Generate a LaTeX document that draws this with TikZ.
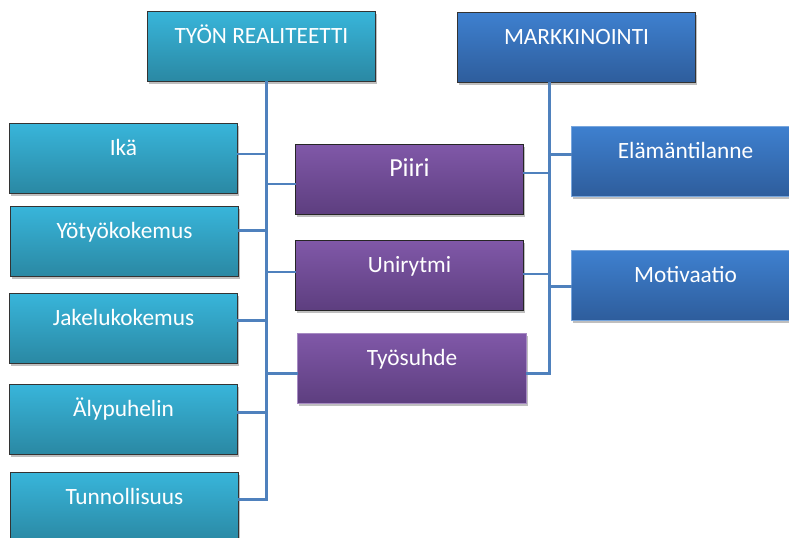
\documentclass[tikz,border=0pt]{standalone}
\usepackage{fontspec}
\setmainfont{Carlito}
\usetikzlibrary{shadows,calc}
\definecolor{tealtop}{HTML}{38B5DA}
\definecolor{tealbot}{HTML}{2A88A3}
\definecolor{bluetop}{HTML}{3E80CF}
\definecolor{bluebot}{HTML}{2E5D9C}
\definecolor{purtop}{HTML}{8058A8}
\definecolor{purbot}{HTML}{5D3E7F}
\definecolor{conncol}{HTML}{4F81BD}
\tikzset{
  box/.style={rectangle, anchor=north west, minimum width=171pt, inner sep=0pt,
    text height=24pt, text depth=28.5pt, text=white,
    font=\fontsize{17.5}{20}\selectfont, line width=0.75pt,
    drop shadow={shadow xshift=0.8pt, shadow yshift=-2pt, opacity=0.25, fill=black}},
  tealbox/.style={box, draw=black!80, top color=tealtop, bottom color=tealbot},
  bluebox/.style={box, draw=black!80, top color=bluetop, bottom color=bluebot},
  bluelight/.style={box, draw=bluetop!70!white, top color=bluetop, bottom color=bluebot},
  purbox/.style={box, draw=black!85, top color=purtop, bottom color=purbot},
  purlight/.style={box, draw=purtop!70!white, top color=purtop, bottom color=purbot},
  conn/.style={draw=conncol, line width=2.2pt, line cap=rect}
}
\begin{document}
\begin{tikzpicture}[x=0.75pt,y=-0.75pt]
\useasboundingbox (0,0) rectangle (789,537);
% connectors first (behind boxes)
% nodes
\node[tealbox] (tr) at (147,11) {TYÖN REALITEETTI};
\node[bluebox, minimum width=178.5pt] (mk) at (457,12) {MARKKINOINTI};
\node[tealbox] (ika) at (9,123) {Ikä};
\node[tealbox] (yoty) at (10,206) {Yötyökokemus};
\node[tealbox] (jak) at (9,293) {Jakelukokemus};
\node[tealbox] (aly) at (9,384) {Älypuhelin};
\node[tealbox] (tun) at (10,472) {Tunnollisuus};
\node[purbox, font=\fontsize{19.5}{22}\selectfont] (piiri) at (295,144) {Piiri};
\node[purbox] (uni) at (295,240) {Unirytmi};
\node[purlight, minimum width=171.75pt] (tyo) at (297,333) {Työsuhde};
\node[bluelight] (ela) at (571,126) {Elämäntilanne};
\node[bluelight] (mot) at (571,250) {Motivaatio};
% connector coordinates
\coordinate (ls) at ($(tr.south)+(5,0)$);
\coordinate (rs) at ($(mk.south)+(-27,0)$);
\coordinate (bI) at ($(ika.east)+(0,-4.5)$);
\coordinate (bY) at ($(yoty.east)+(0,-11)$);
\coordinate (bJ) at ($(jak.east)+(0,-8)$);
\coordinate (bA) at ($(aly.east)+(0,-7)$);
\coordinate (bT) at ($(tun.east)+(0,-8)$);
\coordinate (pL) at ($(piiri.west)+(0,4.5)$);
\coordinate (uL) at ($(uni.west)+(0,-3.5)$);
\coordinate (tL) at ($(tyo.west)+(0,5)$);
\coordinate (pR) at ($(piiri.east)+(0,-6.5)$);
\coordinate (uR) at ($(uni.east)+(0,-1.5)$);
\coordinate (tR) at ($(tyo.east)+(0,5)$);
\coordinate (eL) at ($(ela.west)+(0,-7)$);
\coordinate (mL) at ($(mot.west)+(0,1)$);
\begin{scope}[on background layer/.try]
\end{scope}
\draw[conn] (ls) |- (bT);
\draw[conn] (bI) -- (bI -| ls);
\draw[conn] (bY) -- (bY -| ls);
\draw[conn] (bJ) -- (bJ -| ls);
\draw[conn] (bA) -- (bA -| ls);
\draw[conn] (pL) -- (pL -| ls);
\draw[conn] (uL) -- (uL -| ls);
\draw[conn] (tL) -- (tL -| ls);
\draw[conn] (rs) |- (tR);
\draw[conn] (pR) -- (pR -| rs);
\draw[conn] (uR) -- (uR -| rs);
\draw[conn] (eL) -- (eL -| rs);
\draw[conn] (mL) -- (mL -| rs);
\end{tikzpicture}
\end{document}
